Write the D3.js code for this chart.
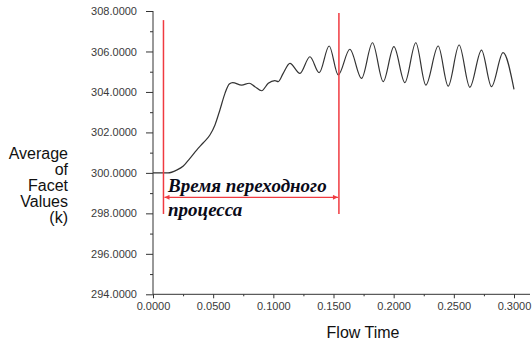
<!DOCTYPE html>
<html>
<head>
<meta charset="utf-8">
<script src="https://cdn.jsdelivr.net/npm/d3@7"></script>
<style>
  html, body { margin: 0; padding: 0; background: #fff; }
  svg { display: block; }
</style>
</head>
<body>
<svg id="chart" width="532" height="343"></svg>
<script>
// Flow time (s) of each sample
const flowTime = [
  0.0000, 0.0125, 0.0197, 0.0252, 0.0307, 0.0363, 0.0418, 0.0473, 0.0515, 0.0556,
  0.0598, 0.0634, 0.0662, 0.0737, 0.0800, 0.0847, 0.0903, 0.0958, 0.1013, 0.1041,
  0.1082, 0.1138, 0.1221, 0.1304, 0.1381, 0.1464, 0.1539, 0.1636, 0.1733, 0.1824,
  0.1913, 0.2002, 0.2093, 0.2184, 0.2267, 0.2370, 0.2453, 0.2544, 0.2633, 0.2730,
  0.2813, 0.2909, 0.3000
];
// Average of facet values (k) at each sample
const facetAverage = [
  300.00, 300.00, 300.14, 300.34, 300.72, 301.13, 301.49, 301.87, 302.37, 303.11,
  303.93, 304.39, 304.46, 304.34, 304.43, 304.26, 304.06, 304.43, 304.56, 304.51,
  304.92, 305.41, 304.92, 305.74, 304.95, 306.27, 304.84, 306.11, 304.67, 306.43,
  304.51, 306.24, 304.46, 306.43, 304.34, 306.27, 304.29, 306.32, 304.23, 306.07,
  304.26, 305.94, 304.13
];

const yMajorTicks = [294, 296, 298, 300, 302, 304, 306, 308];
const yMinorTicks = [295, 297, 299, 301, 303, 305, 307];
const xMajorTicks = [0, 0.05, 0.10, 0.15, 0.20, 0.25, 0.30];
const xMinorTicks = [0.025, 0.075, 0.125, 0.175, 0.225, 0.275];

const yTitleLines = ["Average", "of", "Facet", "Values", "(k)"];
const xTitle = "Flow Time";

// Transient period markers: start and end time
const transientStart = 0.0087;
const transientEnd = 0.1545;
const transientLabel = ["Время переходного", "процесса"];

const svg = d3.select("#chart");
const plot = { left: 153, right: 514, top: 11, bottom: 294.3 };

const x = d3.scaleLinear().domain([0, 0.3]).range([plot.left, plot.right]);
const y = d3.scaleLinear().domain([294, 308]).range([plot.bottom, plot.top]);

const axisColor = "#333";
const red = "#f03a40";

// Y axis with major and minor ticks
const yAxis = svg.append("g").attr("transform", `translate(${plot.left},0)`);
yAxis.call(d3.axisLeft(y).tickValues(yMajorTicks).tickSize(7).tickPadding(9)
  .tickFormat(d3.format(".4f")));
yAxis.append("g").call(d3.axisLeft(y).tickValues(yMinorTicks).tickSize(3).tickFormat(""))
  .select(".domain").remove();
yAxis.selectAll(".domain").attr("d", `M0,${plot.top}V${plot.bottom}`);

// X axis with major and minor ticks
const xAxis = svg.append("g").attr("transform", `translate(0,${plot.bottom})`);
xAxis.call(d3.axisBottom(x).tickValues(xMajorTicks).tickSize(4).tickPadding(4)
  .tickFormat(d3.format(".4f")));
xAxis.append("g").call(d3.axisBottom(x).tickValues(xMinorTicks).tickSize(2).tickFormat(""))
  .select(".domain").remove();
xAxis.selectAll(".domain").attr("d", `M${plot.left},0H530`);

svg.selectAll(".tick text")
  .attr("font-family", "Arial, 'Liberation Sans', sans-serif")
  .attr("font-size", 11)
  .attr("fill", "#3a3a3a");
svg.selectAll(".domain, .tick line").attr("stroke", axisColor).attr("stroke-width", 1);

// Axis titles
const titleFont = "Arial, 'Liberation Sans', sans-serif";
svg.append("text")
  .attr("text-anchor", "end")
  .attr("font-family", titleFont)
  .attr("font-size", 16)
  .attr("fill", "#111")
  .selectAll("tspan")
  .data(yTitleLines)
  .join("tspan")
  .attr("x", 68)
  .attr("y", (d, i) => 158.5 + i * 16)
  .text(d => d);

svg.append("text")
  .attr("x", 363)
  .attr("y", 338)
  .attr("text-anchor", "middle")
  .attr("font-family", titleFont)
  .attr("font-size", 16)
  .attr("fill", "#111")
  .text(xTitle);

// Data curve
const points = flowTime.map((t, i) => [t, facetAverage[i]]);
svg.append("path")
  .datum(points)
  .attr("fill", "none")
  .attr("stroke", "#333")
  .attr("stroke-width", 1.2)
  .attr("d", d3.line().x(d => x(d[0])).y(d => y(d[1])).curve(d3.curveMonotoneX));

// Transient period markers
const notes = svg.append("g").attr("class", "transient");
const markerLines = [
  { t: transientStart, top: 307.55 },
  { t: transientEnd, top: 307.9 }
];
notes.selectAll("path.bound")
  .data(markerLines)
  .join("path")
  .attr("class", "bound")
  .attr("d", d => `M${x(d.t)},${y(d.top)}V${y(297.97)}`)
  .attr("fill", "none")
  .style("stroke", red)
  .style("stroke-width", "1.5px");

const arrowY = y(298.79);
const defs = svg.append("defs");
defs.append("marker")
  .attr("id", "arrowEnd")
  .attr("viewBox", "0 0 10 10")
  .attr("refX", 10).attr("refY", 5)
  .attr("markerWidth", 7).attr("markerHeight", 5)
  .attr("markerUnits", "userSpaceOnUse")
  .attr("orient", "auto-start-reverse")
  .append("path")
  .attr("d", "M0,0L10,5L0,10Z")
  .attr("fill", red);

notes.append("line")
  .attr("x1", x(transientStart) + 1).attr("x2", x(transientEnd) - 1)
  .attr("y1", arrowY).attr("y2", arrowY)
  .style("stroke", red).style("stroke-width", "1.2px")
  .attr("marker-start", "url(#arrowEnd)")
  .attr("marker-end", "url(#arrowEnd)");

notes.append("text")
  .attr("font-family", "'Times New Roman', 'Liberation Serif', serif")
  .attr("font-size", 19)
  .attr("font-weight", "bold")
  .attr("font-style", "italic")
  .attr("fill", "#0a0a18")
  .selectAll("tspan")
  .data(transientLabel)
  .join("tspan")
  .attr("x", 168)
  .attr("y", (d, i) => 191.5 + i * 24.5)
  .text(d => d);
</script>
</body>
</html>
